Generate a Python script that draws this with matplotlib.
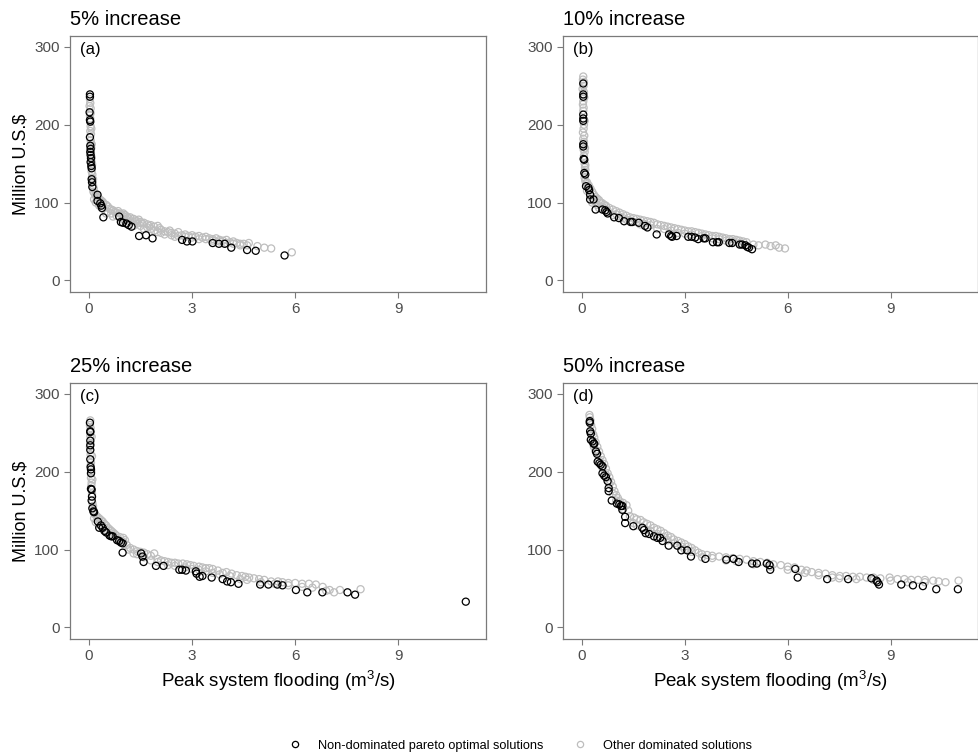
import matplotlib
matplotlib.use("Agg")
import matplotlib.pyplot as plt
from matplotlib.lines import Line2D

plt.rcParams['font.family'] = ['Liberation Sans', 'DejaVu Sans']
plt.rcParams['mathtext.fontset'] = 'custom'
plt.rcParams['mathtext.rm'] = 'Liberation Sans'

titles = ["5% increase", "10% increase", "25% increase", "50% increase"]
tags = ["(a)", "(b)", "(c)", "(d)"]

# panel (a) 5% increase
a_best_x = [0.03, 0.03, 0.02, 0.03, 0.04, 0.03, 0.04, 0.05, 0.04, 0.05, 0.06, 0.05, 0.07, 0.08,
            0.08, 0.09, 0.1, 0.25, 0.25, 0.33, 0.36, 0.38, 0.42, 0.88, 0.93, 0.99, 1.09, 1.16,
            1.24, 1.46, 1.66, 1.85, 2.71, 2.85, 3.01, 3.6, 3.78, 3.95, 4.14, 4.6, 4.85, 5.69]
a_best_y = [239, 236, 216, 206, 204, 184, 173, 169, 165, 161, 157, 152, 147, 144,
            130, 126, 120, 110, 102, 99, 96, 93, 81, 82, 75, 74, 73, 71,
            69, 57, 58, 54, 52, 50, 50, 48, 47, 47, 42, 39, 38, 32]
a_other_x = [0.03, 0.04, 0.02, 0.05, 0.03, 0.04, 0.05, 0.04, 0.06, 0.05, 0.06, 0.07, 0.06, 0.08,
             0.07, 0.09, 0.08, 0.1, 0.09, 0.11, 0.12, 0.14, 0.13, 0.16, 0.2, 0.22, 0.28, 0.3,
             0.35, 0.4, 0.42, 0.5, 0.55, 0.6, 0.65, 0.7, 0.75, 0.8, 0.85, 0.9, 0.95, 1.0,
             1.05, 1.1, 1.15, 1.2, 1.3, 1.35, 1.4, 1.45, 1.5, 1.55, 1.6, 1.7, 1.75, 1.8,
             1.9, 2.0, 2.05, 2.1, 2.2, 2.3, 2.35, 2.4, 2.5, 2.6, 2.7, 2.8, 2.9, 3.0,
             3.1, 3.2, 3.3, 3.4, 3.5, 3.6, 3.7, 3.8, 3.9, 4.0, 4.1, 4.2, 4.3, 4.4,
             4.5, 4.65, 4.9, 5.1, 5.3, 5.9, 0.5, 0.7, 1.0, 1.3, 1.6, 2.0, 2.5, 3.2, 4.0,
             0.15, 0.2, 0.3, 0.4, 0.55, 0.65, 0.8, 0.9, 1.1, 1.2, 1.4, 1.5, 1.7, 1.8,
             1.9, 2.1, 2.2, 2.4, 2.6, 2.8, 3.0, 3.4, 3.6, 3.8, 4.2, 4.4, 4.6, 0.12,
             0.08, 0.07, 0.09, 0.05]
a_other_y = [233, 228, 224, 221, 212, 208, 198, 192, 188, 180, 176, 170, 163, 158,
             153, 148, 140, 136, 132, 127, 122, 118, 114, 112, 110, 107, 106, 104,
             103, 101, 99, 97, 95, 92, 91, 90, 88, 87, 89, 86, 85, 86,
             84, 82, 80, 81, 79, 77, 76, 78, 75, 73, 74, 72, 70, 71,
             69, 70, 67, 65, 63, 62, 64, 61, 60, 62, 58, 59, 57, 58,
             56, 57, 55, 56, 54, 53, 54, 52, 51, 52, 49, 50, 48, 47,
             47, 48, 44, 42, 41, 36, 86, 82, 78, 70, 66, 62, 56, 53, 48,
             104, 100, 96, 92, 88, 86, 83, 80, 78, 76, 73, 70, 68, 66,
             64, 61, 59, 58, 57, 56, 55, 53, 51, 50, 47, 45, 45, 130,
             175, 195, 150, 215]

# panel (b) 10% increase
b_best_x = [0.04, 0.04, 0.04, 0.04, 0.04, 0.04, 0.04, 0.04, 0.05, 0.07, 0.07, 0.1, 0.12, 0.19,
            0.21, 0.24, 0.24, 0.34, 0.4, 0.6, 0.68, 0.72, 0.75, 0.94, 1.08, 1.23, 1.42, 1.47,
            1.66, 1.84, 1.91, 2.18, 2.54, 2.6, 2.63, 2.76, 3.1, 3.2, 3.3, 3.39, 3.55, 3.6,
            3.82, 3.94, 3.99, 4.3, 4.38, 4.6, 4.67, 4.77, 4.82, 4.87, 4.96]
b_best_y = [253, 239, 236, 213, 208, 205, 175, 172, 156, 155, 138, 136, 121, 119,
            116, 110, 104, 104, 91, 91, 90, 88, 86, 81, 80, 76, 75, 75,
            74, 70, 68, 59, 59, 57, 56, 57, 56, 56, 55, 53, 54, 54,
            49, 49, 49, 48, 48, 46, 46, 45, 43, 42, 40]
b_other_x = [0.04, 0.03, 0.05, 0.02, 0.06, 0.04, 0.03, 0.05, 0.04, 0.06, 0.05, 0.03, 0.07, 0.04,
             0.06, 0.05, 0.08, 0.06, 0.08, 0.09, 0.1, 0.08, 0.1, 0.12, 0.15, 0.2, 0.25, 0.3,
             0.35, 0.4, 0.45, 0.5, 0.55, 0.6, 0.65, 0.7, 0.8, 0.9, 1.0, 1.1, 1.2, 1.3,
             1.4, 1.5, 1.6, 1.7, 1.8, 1.9, 2.0, 2.1, 2.2, 2.3, 2.4, 2.5, 2.6, 2.7,
             2.8, 2.9, 3.0, 3.1, 3.2, 3.3, 3.4, 3.5, 3.6, 3.7, 3.8, 3.9, 4.0, 4.1,
             4.2, 4.3, 4.4, 4.5, 4.6, 4.7, 4.8, 5.0, 5.15, 5.35, 5.5, 5.65, 5.75, 5.92,
             0.3, 0.5, 0.9, 1.3, 1.7, 2.2, 2.8, 3.5, 4.2,
             0.15, 0.25, 0.35, 0.45, 0.6, 0.75, 1.0, 1.1, 1.2, 1.4, 1.6, 1.8, 2.0, 2.4,
             2.6, 3.0, 3.2, 3.8, 4.0, 4.4, 4.6, 0.1, 0.09, 0.08, 0.07, 0.06]
b_other_y = [262, 258, 250, 246, 242, 230, 226, 222, 218, 200, 195, 190, 186, 182,
             178, 168, 165, 160, 150, 145, 142, 132, 128, 125, 126, 122, 118, 114,
             110, 107, 105, 103, 100, 99, 97, 96, 93, 91, 89, 87, 85, 83,
             81, 80, 79, 78, 77, 76, 75, 74, 72, 71, 70, 69, 68, 67,
             66, 65, 64, 63, 63, 62, 61, 60, 59, 58, 57, 57, 56, 55,
             54, 53, 53, 52, 51, 50, 49, 46, 45, 46, 44, 45, 42, 41,
             100, 93, 84, 78, 72, 66, 61, 57, 51,
             115, 108, 102, 97, 94, 90, 85, 82, 80, 77, 75, 73, 71, 66,
             64, 60, 59, 54, 53, 50, 48, 148, 170, 205, 235, 255]

# panel (c) 25% increase
c_best_x = [0.03, 0.04, 0.04, 0.04, 0.04, 0.04, 0.04, 0.05, 0.06, 0.06, 0.06, 0.08, 0.09, 0.08,
            0.1, 0.13, 0.15, 0.26, 0.3, 0.35, 0.4, 0.45, 0.5, 0.6, 0.65, 0.69, 0.82, 0.88,
            0.93, 0.98, 0.98, 1.52, 1.56, 1.59, 1.95, 2.17, 2.63, 2.71, 2.82, 3.11, 3.13, 3.22,
            3.3, 3.57, 3.89, 4.02, 4.13, 4.35, 4.98, 5.22, 5.48, 5.63, 6.02, 6.35, 6.79, 7.52,
            7.74, 10.96]
c_best_y = [263, 252, 251, 240, 234, 228, 216, 206, 203, 198, 178, 177, 168, 163,
            153, 149, 148, 136, 128, 131, 128, 124, 122, 118, 117, 117, 112, 111,
            109, 108, 96, 95, 91, 84, 79, 79, 74, 74, 73, 72, 69, 65,
            66, 64, 62, 59, 58, 56, 55, 55, 55, 54, 48, 45, 45, 45,
            42, 33]
c_other_x = [0.04, 0.03, 0.05, 0.04, 0.05, 0.03, 0.05, 0.06, 0.05, 0.07, 0.06, 0.08, 0.07, 0.09,
             0.1, 0.12, 0.14, 0.16, 0.2, 0.25, 0.3, 0.35, 0.4, 0.45, 0.5, 0.55, 0.6, 0.65,
             0.7, 0.75, 0.8, 0.9, 1.0, 1.05, 1.1, 1.2, 1.3, 1.4, 1.5, 1.6, 1.7, 1.8,
             1.9, 2.0, 2.1, 2.2, 2.3, 2.4, 2.5, 2.6, 2.73, 2.85, 2.95, 3.05, 3.2, 3.3,
             3.4, 3.5, 3.6, 3.75, 3.89, 4.0, 4.15, 4.3, 4.45, 4.55, 4.66, 4.8, 4.95, 5.1,
             5.3, 5.5, 5.63, 5.8, 6.0, 6.2, 6.4, 6.6, 6.8, 7.0, 7.13, 7.3, 7.9,
             0.3, 0.6, 0.9, 1.3, 1.8, 2.3, 3.0, 3.6, 4.4, 5.0, 6.2,
             0.15, 0.2, 0.4, 0.5, 0.7, 0.8, 1.0, 1.15, 1.4, 1.6, 2.0, 2.5, 2.8, 3.2,
             3.4, 3.8, 4.1, 4.6, 5.4, 5.8, 6.5, 6.9, 0.1, 0.09, 0.08]
c_other_y = [266, 260, 256, 246, 236, 232, 222, 212, 208, 200, 192, 186, 182, 172,
             160, 156, 150, 146, 144, 142, 140, 138, 136, 133, 131, 128, 126, 124,
             122, 120, 118, 116, 115, 112, 106, 102, 100, 98, 97, 96, 94, 92,
             95, 88, 86, 85, 84, 83, 83, 82, 82, 81, 80, 79, 78, 77,
             76, 76, 75, 73, 70, 71, 69, 67, 66, 65, 64, 63, 62, 61,
             59, 59, 58, 57, 57, 56, 56, 55, 52, 48, 45, 48, 49,
             132, 120, 112, 95, 86, 80, 75, 70, 62, 58, 52,
             140, 135, 127, 125, 118, 114, 110, 100, 94, 90, 84, 79, 77, 74,
             72, 68, 66, 61, 56, 54, 51, 47, 190, 220, 245]

# panel (d) 50% increase
d_best_x = [0.23, 0.23, 0.24, 0.26, 0.26, 0.31, 0.34, 0.36, 0.41, 0.44, 0.46, 0.51, 0.55, 0.6,
            0.6, 0.65, 0.7, 0.75, 0.78, 0.78, 0.87, 1.02, 1.09, 1.14, 1.18, 1.18, 1.26, 1.26,
            1.5, 1.76, 1.81, 1.86, 1.96, 2.1, 2.2, 2.28, 2.35, 2.53, 2.78, 2.9, 3.07, 3.18,
            3.6, 4.21, 4.42, 4.57, 4.96, 5.1, 5.39, 5.47, 5.49, 6.22, 6.29, 7.15, 7.76, 8.44,
            8.59, 8.62, 8.66, 9.31, 9.65, 9.94, 10.33, 10.96]
d_best_y = [265, 263, 252, 249, 241, 239, 236, 236, 226, 223, 213, 211, 209, 207,
            198, 195, 193, 188, 179, 175, 163, 159, 158, 156, 156, 151, 142, 134,
            130, 128, 125, 121, 120, 117, 115, 115, 111, 105, 105, 99, 99, 91,
            88, 87, 88, 84, 82, 82, 82, 80, 74, 75, 64, 62, 62, 63,
            60, 58, 55, 55, 54, 53, 49, 49]
d_other_x = [0.22, 0.23, 0.25, 0.27, 0.3, 0.33, 0.36, 0.4, 0.45, 0.5, 0.55, 0.6, 0.65, 0.7,
             0.75, 0.8, 0.85, 0.9, 0.95, 1.0, 1.05, 1.1, 1.2, 1.3, 1.35, 1.4, 1.52, 1.6,
             1.71, 1.8, 1.9, 2.0, 2.1, 2.2, 2.3, 2.4, 2.5, 2.6, 2.68, 2.8, 2.9, 3.0,
             3.1, 3.2, 3.3, 3.4, 3.5, 3.65, 3.8, 4.0, 4.2, 4.4, 4.6, 4.8, 5.0, 5.2,
             5.4, 5.58, 5.8, 6.0, 6.2, 6.4, 6.55, 6.7, 6.9, 7.1, 7.3, 7.52, 7.7, 7.9,
             8.1, 8.3, 8.5, 8.7, 8.97, 9.2, 9.4, 9.6, 9.8, 10.0, 10.24, 10.4, 10.98,
             0.35, 0.5, 0.7, 0.9, 1.5, 2.0, 2.5, 3.0, 3.5, 4.5, 5.5, 6.5, 7.5, 8.5, 9.5,
             0.28, 0.4, 0.6, 0.8, 1.0, 1.2, 1.6, 1.8, 2.2, 2.4, 2.7, 2.9, 3.2, 3.8,
             4.2, 5.0, 6.0, 6.9, 7.3, 8.0, 9.0, 10.0, 10.6]
d_other_y = [273, 270, 266, 260, 255, 248, 244, 238, 232, 226, 220, 215, 210, 204,
             198, 193, 187, 181, 175, 170, 166, 162, 160, 157, 150, 143, 141, 139,
             138, 135, 133, 131, 128, 126, 124, 121, 118, 116, 113, 111, 109, 107,
             104, 102, 99, 96, 94, 93, 92, 91, 90, 89, 88, 87, 85, 84,
             83, 81, 80, 78, 77, 74, 73, 71, 70, 69, 67, 66, 66, 65,
             65, 64, 64, 63, 64, 62, 62, 61, 61, 61, 60, 59, 60,
             232, 215, 196, 172, 134, 124, 112, 100, 90, 85, 78, 70, 63, 61, 58,
             250, 228, 205, 185, 163, 152, 131, 127, 120, 116, 108, 104, 97, 89,
             86, 81, 74, 67, 64, 62, 60, 58, 58]

best_x = [a_best_x, b_best_x, c_best_x, d_best_x]
best_y = [a_best_y, b_best_y, c_best_y, d_best_y]
other_x = [a_other_x, b_other_x, c_other_x, d_other_x]
other_y = [a_other_y, b_other_y, c_other_y, d_other_y]

x_ticks = [0, 3, 6, 9]
y_ticks = [0, 100, 200, 300]

grey_pts = "#BEBEBE"
frame = "#7A7A7A"
tick_col = "#4D4D4D"

fig = plt.figure(figsize=(9.79, 7.54), dpi=100)
positions = [[0.0715, 0.6127, 0.4250, 0.3395],
             [0.5751, 0.6127, 0.4240, 0.3395],
             [0.0715, 0.1525, 0.4250, 0.3395],
             [0.5751, 0.1525, 0.4240, 0.3395]]

for i in range(4):
    ax = fig.add_axes(positions[i])
    ax.scatter(other_x[i], other_y[i], s=26, facecolors="none", edgecolors=grey_pts, linewidths=0.9, zorder=2)
    ax.scatter(best_x[i], best_y[i], s=26, facecolors="none", edgecolors="black", linewidths=0.9, zorder=3)
    ax.set_xlim(-0.55, 11.55)
    ax.set_ylim(-15, 314)
    ax.set_xticks(x_ticks)
    ax.set_yticks(y_ticks)
    ax.tick_params(colors=frame, labelcolor=tick_col, labelsize=11, length=4, width=0.8)
    for sp in ax.spines.values():
        sp.set_color(frame)
        sp.set_linewidth(0.9)
    ax.set_title(titles[i], loc="left", fontsize=14.5, pad=8)
    ax.text(0.025, 0.975, tags[i], transform=ax.transAxes, ha="left", va="top", fontsize=12)
    if i % 2 == 0:
        ax.set_ylabel("Million U.S.$", fontsize=13, labelpad=3)
    if i >= 2:
        ax.set_xlabel(r"Peak system flooding (m$\mathregular{^3}$/s)", fontsize=13.5, labelpad=4)

handles = [Line2D([], [], marker="o", ls="none", mfc="none", mec="black", ms=4.5, mew=0.9),
           Line2D([], [], marker="o", ls="none", mfc="none", mec=grey_pts, ms=4.5, mew=0.9)]
fig.legend(handles, ["Non-dominated pareto optimal solutions", "Other dominated solutions"],
           loc="lower left", bbox_to_anchor=(0.2765, -0.012), ncol=2, frameon=False,
           fontsize=9.2, handletextpad=0.8, columnspacing=1.85)

fig.savefig("out.png", dpi=100)
